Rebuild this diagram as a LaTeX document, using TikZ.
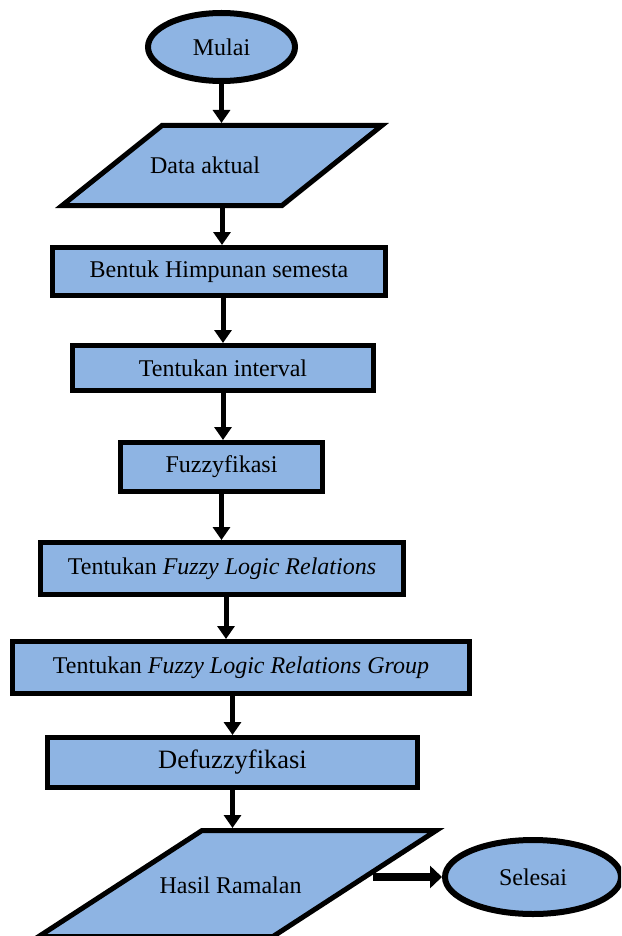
\documentclass[tikz,border=0pt]{standalone}
\usepackage{fontspec}
\setmainfont{Liberation Serif}
\usepackage{xcolor}
\usetikzlibrary{arrows.meta,positioning,calc,shapes.geometric}
\definecolor{boxblue}{RGB}{142,180,227}
\begin{document}
\begin{tikzpicture}[x=1pt,y=-1pt,
  base/.style={draw,fill=boxblue,line width=5pt,font=\fontsize{24pt}{28pt}\selectfont,inner sep=2pt},
  term/.style={base,ellipse,line width=6pt},
  io/.style={base,trapezium,inner sep=0pt,minimum size=0pt},
  proc/.style={base,rectangle},
  lbl/.style={font=\fontsize{24pt}{28pt}\selectfont},
  arr/.style={line width=5pt,-{Triangle[width=17pt,length=13pt]}},
  bigarr/.style={line width=8pt,-{Triangle[width=22pt,length=12pt]}}]
  \useasboundingbox (0,0) rectangle (621,936);
  \clip (0,0) rectangle (621,936);
  \node[term,minimum width=147pt,minimum height=68pt](mulai) at (221.5,47){Mulai};
  \node[io,trapezium left angle=38.7,trapezium right angle=141.3,text width=120pt,text height=40pt,text depth=40pt,
    label={[lbl,xshift=-17pt]center:Data aktual}](data) at (222,165.5){};
  \node[proc,minimum width=333pt,minimum height=48pt](bentuk) at (219,271.5){Bentuk Himpunan semesta};
  \node[proc,minimum width=301pt,minimum height=45pt](interval) at (223,368){Tentukan interval};
  \node[proc,minimum width=202pt,minimum height=49pt](fuzzy) at (221.5,467){Fuzzyfikasi};
  \node[proc,minimum width=363pt,minimum height=52pt](flr) at (222,568.5){Tentukan \textit{Fuzzy Logic Relations}};
  \node[proc,minimum width=457pt,minimum height=52pt](flrg) at (241,667.5){Tentukan \textit{Fuzzy Logic Relations Group}};
  \node[proc,minimum width=370pt,minimum height=50pt,font=\fontsize{26.5pt}{30pt}\selectfont](defuzz) at (232.5,762.5){Defuzzyfikasi};
  \node[io,trapezium left angle=33,trapezium right angle=147,text width=71pt,text height=53pt,text depth=53pt,
    label={[lbl,xshift=-7pt,yshift=-2pt]center:Hasil Ramalan}](hasil) at (237.5,883.5){};
  \node[term,minimum width=176pt,minimum height=74pt](selesai) at (533,877){Selesai};
  % alur utama
  \draw[arr](mulai.south)--(mulai.south|-data.north);
  \draw[arr](data.north|-data.south)--(data.north|-bentuk.north);
  \draw[arr](interval.north|-bentuk.south)--(interval.north);
  \draw[arr](interval.south)--(interval.south|-fuzzy.north);
  \draw[arr](fuzzy.south)--(fuzzy.south|-flr.north);
  \draw[arr]([xshift=4pt]flr.south)--([xshift=4pt]flr.south|-flrg.north);
  \draw[arr](defuzz.north|-flrg.south)--(defuzz.north);
  \draw[arr](defuzz.south)--(defuzz.south|-hasil.north);
  \draw[bigarr]([xshift=14pt]hasil.east|-selesai.west)--(selesai.west);
\end{tikzpicture}
\end{document}
